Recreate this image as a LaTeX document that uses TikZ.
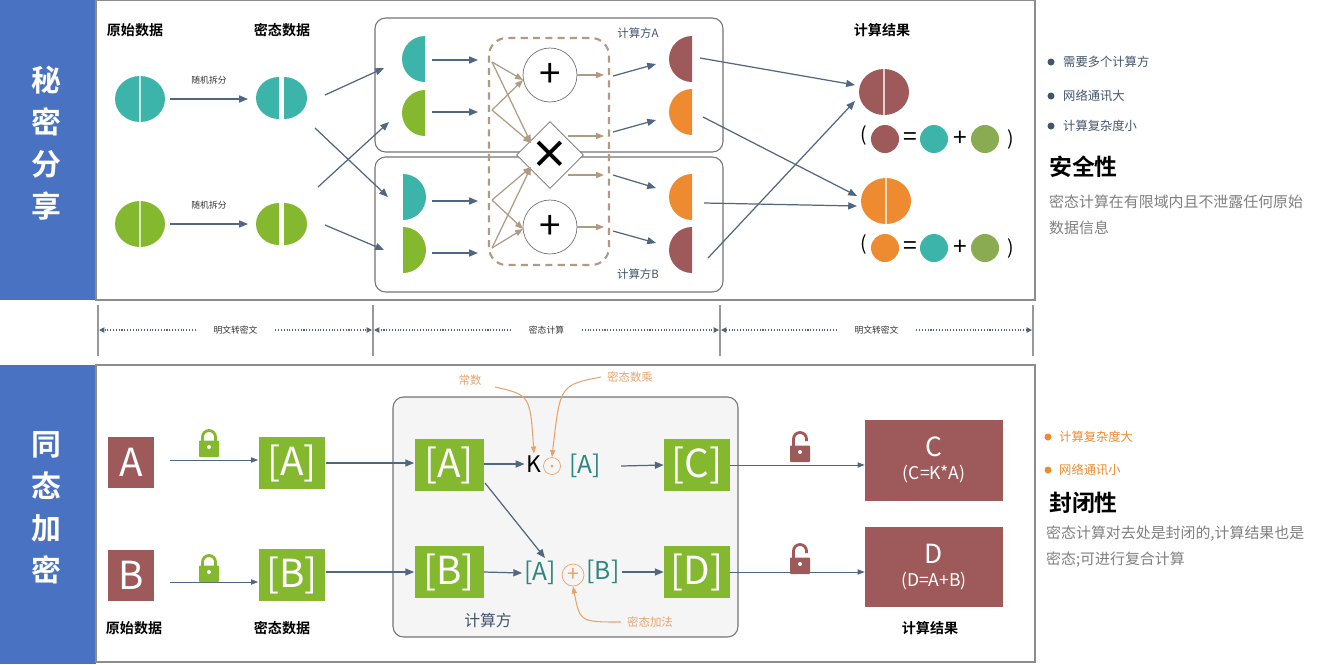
\documentclass[tikz,border=0pt]{standalone}
\usepackage{fontspec}
\setmainfont{Noto Sans CJK SC}[BoldFont={Noto Sans CJK SC Bold}]
\usetikzlibrary{shapes.geometric,arrows.meta,calc}

\definecolor{barblue}{HTML}{4A72C2}
\definecolor{cteal}{HTML}{3DB4A9}
\definecolor{cgreen}{HTML}{84B82E}
\definecolor{colive}{HTML}{8AAB52}
\definecolor{cmaroon}{HTML}{9E5A5A}
\definecolor{corange}{HTML}{EE8A2F}
\definecolor{cslate}{HTML}{516781}
\definecolor{ctan}{HTML}{B09A82}
\definecolor{cnote}{HTML}{E6A46C}
\definecolor{ctext}{HTML}{44546A}
\definecolor{cgray}{HTML}{7F7F7F}

% half disks: flat side right / left
\newcommand\halfl[2]{\fill[#2] ([yshift=0.46cm]#1) arc[start angle=90,end angle=270,radius=0.46cm] -- cycle;}
\newcommand\halfr[2]{\fill[#2] ([yshift=0.46cm]#1) arc[start angle=90,end angle=-90,radius=0.46cm] -- cycle;}
% whole circle cut in the middle
\newcommand\fullc[2]{\fill[#2] (#1) ellipse[x radius=0.5cm,y radius=0.46cm];
  \draw[white!70!#2,line width=0.6pt] ([yshift=0.46cm]#1) -- ([yshift=-0.46cm]#1);}
% split circle with a gap
\newcommand\splitc[2]{\fill[#2] ([xshift=-0.04cm,yshift=0.42cm]#1) arc[start angle=90,end angle=270,x radius=0.46cm,y radius=0.42cm] -- cycle;
  \fill[#2] ([xshift=0.06cm,yshift=0.42cm]#1) arc[start angle=90,end angle=-90,x radius=0.46cm,y radius=0.42cm] -- cycle;}
% closed / open padlock
\newcommand\lock[2]{\draw[#2,line width=1.6pt] ([xshift=-0.13cm,yshift=0.1cm]#1) -- ++(0,0.1cm) arc[start angle=180,end angle=0,radius=0.13cm] -- ++(0,-0.1cm);
  \fill[#2,rounded corners=0.5pt] ([xshift=-0.2cm,yshift=-0.2cm]#1) rectangle ([xshift=0.2cm,yshift=0.13cm]#1);
  \fill[white] (#1) circle[radius=0.04cm];}
\newcommand\unlock[2]{\draw[#2,line width=1.6pt] ([xshift=-0.13cm,yshift=0.1cm]#1) -- ++(0,0.16cm) arc[start angle=180,end angle=0,radius=0.13cm] -- ++(0,-0.04cm);
  \fill[#2,rounded corners=0.5pt] ([xshift=-0.2cm,yshift=-0.2cm]#1) rectangle ([xshift=0.2cm,yshift=0.13cm]#1);
  \fill[white] (#1) circle[radius=0.04cm];}

\tikzset{
  conn/.style={cslate,line width=0.7pt,-{Triangle[length=5pt,width=4pt]}},
  thin conn/.style={cslate,line width=0.5pt,-{Triangle[length=4pt,width=3pt]}},
  tan conn/.style={ctan,line width=0.7pt,-{Triangle[length=4.5pt,width=3.5pt]}},
  note conn/.style={cnote,line width=0.6pt,-{Triangle[length=4pt,width=3pt]}},
  head/.style={font=\bfseries\fontsize{8}{8}\selectfont},
  tiny label/.style={font=\fontsize{5}{5}\selectfont,text=black!80},
  side/.style={font=\bfseries\fontsize{17}{24}\selectfont,text=white,align=center},
  gbox/.style={fill=cgreen,minimum width=1.34cm,minimum height=1.04cm,text=white,inner sep=0pt,font=\fontsize{22}{22}\selectfont},
  mbox/.style={fill=cmaroon,minimum width=0.92cm,minimum height=1.02cm,text=white,inner sep=0pt,font=\fontsize{22}{22}\selectfont},
  op/.style={draw=black!55,circle,fill=white,minimum size=1.08cm,inner sep=0pt,font=\fontsize{22}{22}\selectfont},
  bullet/.style={font=\fontsize{7}{7}\selectfont,anchor=west},
  para/.style={font=\fontsize{8.5}{8.5}\selectfont,text=cgray,anchor=west},
  enc/.style={text=cteal!75!black,font=\fontsize{14}{14}\selectfont,inner sep=1pt},
}

\begin{document}
\begin{tikzpicture}[x=0.02cm,y=-0.02cm]
\useasboundingbox (0,0) rectangle (1328,664);
% panels
\fill[barblue] (0,0) rectangle (96,300);
\fill[barblue] (0,365) rectangle (96,664);
\draw[black!45,line width=0.8pt] (96,0.5) rectangle (1035,300);
\draw[black!45,line width=0.8pt] (96,365) rectangle (1035,662);
\node[side] (t1) at (46,143) {秘\\密\\分\\享};
\node[side] (t2) at (46,508) {同\\态\\加\\密};

% ---- secret sharing ----
\node[head] (h1) at (135,30) {原始数据};
\node[head] (h2) at (282,30) {密态数据};
\node[head] (h3) at (882,30) {计算结果};
\coordinate (o1) at (140,99); \coordinate (o2) at (140,224);
\coordinate (s1) at (281,98); \coordinate (s2) at (281,224);
\fullc{o1}{cteal} \fullc{o2}{cgreen}
\splitc{s1}{cteal} \splitc{s2}{cgreen}
\draw[conn] (170,99) -- (248,99) node[midway,above=5pt,tiny label] (r1) {随机拆分};
\draw[conn] (170,224) -- (248,224) node[midway,above=5pt,tiny label] (r2) {随机拆分};

% parties
\draw[black!55,rounded corners=6pt,line width=0.6pt] (375,18) rectangle (723,152);
\draw[black!55,rounded corners=6pt,line width=0.6pt] (375,157) rectangle (723,292);
\node[font=\fontsize{6.5}{6.5}\selectfont,text=ctext] (pa) at (638,33) {计算方A};
\node[font=\fontsize{6.5}{6.5}\selectfont,text=ctext] (pb) at (638,274) {计算方B};
\coordinate (a1) at (425,59); \coordinate (a2) at (425,113);
\coordinate (b1) at (403,197); \coordinate (b2) at (403,250);
\halfl{a1}{cteal} \halfl{a2}{cgreen} \halfr{b1}{cteal} \halfr{b2}{cgreen}
\draw[conn] (325,95) -- (384,68);
\draw[conn] (318,187) -- (389,122);
\draw[conn] (315,128) -- (388,197);
\draw[conn] (325,225) -- (384,250);
\foreach \y in {60,112,201,253} \draw[conn] (432,\y) -- (478,\y);

\draw[ctan,dashed,line width=1.2pt,dash pattern=on 4pt off 3pt,rounded corners=10pt] (489,38) rectangle (609,265);
\node[op] (p1) at (550,75) {+};
\node[draw=black!55,diamond,fill=white,minimum size=1.34cm,inner sep=0pt,font=\bfseries\fontsize{22}{22}\selectfont] (m1) at (550,155) {×};
\node[op] (p2) at (550,227) {+};
\foreach \s in {62,110}{
  \draw[tan conn] (492,\s) -- (523,80);
  \draw[tan conn] (492,\s) -- (531,143);}
\foreach \s in {200,248}{
  \draw[tan conn] (492,\s) -- (531,167);
  \draw[tan conn] (492,\s) -- (523,229);}
\draw[tan conn] (p1.east) -- (604,75);
\draw[tan conn] (568,136) -- (604,136);
\draw[tan conn] (568,175) -- (604,175);
\draw[tan conn] (p2.east) -- (604,227);
\draw[conn] (613,76) -- (656,64);
\draw[conn] (613,132) -- (656,120);
\draw[conn] (613,175) -- (656,188);
\draw[conn] (613,231) -- (656,243);
\coordinate (c1) at (692,59); \coordinate (c2) at (692,112);
\coordinate (c3) at (692,197); \coordinate (c4) at (692,250);
\halfl{c1}{cmaroon} \halfl{c2}{corange} \halfl{c3}{corange} \halfl{c4}{cmaroon}

% results
\coordinate (e1) at (884,92); \coordinate (e2) at (886,201);
\fullc{e1}{cmaroon} \fullc{e2}{corange}
\draw[conn] (700,58) -- (855,85);
\draw[conn] (703,117) -- (857,196);
\draw[conn] (704,203) -- (857,206);
\draw[conn] (708,258) -- (855,101);
\foreach \y/\cc in {139/cmaroon,248/corange}{
  \node[font=\fontsize{11}{11}\selectfont] at (864,\y-4) {(};
  \fill[\cc] (885,\y) circle[radius=0.28cm];
  \node[font=\fontsize{14}{14}\selectfont] at (910,\y) {=};
  \fill[cteal] (934,\y) circle[radius=0.28cm];
  \node[font=\fontsize{14}{14}\selectfont] at (960,\y) {+};
  \fill[colive] (985,\y) circle[radius=0.28cm];
  \node[font=\fontsize{11}{11}\selectfont] at (1011,\y) {)};}

% side notes
\foreach \y/\t in {62/需要多个计算方,96/网络通讯大,126/计算复杂度小}{
  \fill[ctext] (1051,\y) circle[radius=0.07cm];
  \node[bullet,text=ctext] at (1057,\y) {\t};}
\node[font=\bfseries\fontsize{13}{13}\selectfont,anchor=west] (sec) at (1043,167) {安全性};
\node[para] at (1043,202) {密态计算在有限域内且不泄露任何原始};
\node[para] at (1043,228) {数据信息};

% ---- phases ----
\foreach \x in {98,373,720,1033} \draw[black!40,line width=0.6pt] (\x,305) -- (\x,356);
\foreach \l/\r/\t in {98/373/明文转密文,373/720/密态计算,720/1033/明文转密文}{
  \node[tiny label,fill=white,inner xsep=10pt] (ph\l) at ({(\l+\r)/2},330) {\t};
  \draw[cslate,densely dotted,line width=0.6pt,-{Triangle[length=3pt,width=3pt]}] (ph\l.west) -- (\l+1,330);
  \draw[cslate,densely dotted,line width=0.6pt,-{Triangle[length=3pt,width=3pt]}] (ph\l.east) -- (\r-1,330);}

% ---- homomorphic ----
\fill[black!4,rounded corners=6pt] (393,397) rectangle (738,637);
\draw[black!55,rounded corners=6pt,line width=0.6pt] (393,397) rectangle (738,637);
\node[mbox] (A) at (131,462) {A};
\node[mbox] (B) at (131,575) {B};
\node[gbox] (eA) at (292,463) {[A]};
\node[gbox] (eB) at (292,575) {[B]};
\node[gbox,minimum width=1.38cm] (iA) at (449,465) {[A]};
\node[gbox,minimum width=1.38cm] (iB) at (449,572) {[B]};
\node[gbox,minimum width=1.32cm] (C2) at (697,465) {[C]};
\node[gbox,minimum width=1.32cm] (D2) at (697,572) {[D]};
\coordinate (la) at (170,460); \coordinate (lb) at (170,582);
\draw[thin conn] (la) -- (eA.west |- la);
\draw[thin conn] (lb) -- (eB.west |- lb);
\coordinate (k1) at (209,447); \coordinate (k2) at (209,572);
\coordinate (k3) at (800,452); \coordinate (k4) at (800,564);
\lock{k1}{cgreen}
\lock{k2}{cgreen}
\draw[conn] (eA.east) -- (iA.west |- eA.east);
\draw[conn] (eB.east |- iB.west) -- (iB.west);

\node[font=\fontsize{13}{13}\selectfont,inner sep=1pt] (K) at (534,464) {K};
\node[draw=cnote,circle,minimum size=0.34cm,inner sep=0pt] (dot) at (552,466) {};
\fill[cnote] (dot) circle[radius=0.03cm];
\node[enc] (kA) at (585,466) {[A]};
\node[enc] (sA) at (540,573) {[A]};
\node[draw=cnote,circle,minimum size=0.44cm,inner sep=0pt,text=cnote,font=\fontsize{12}{12}\selectfont] (plus) at (573,575) {+};
\node[enc] (sB) at (603,572) {[B]};
\draw[conn] (iA.east |- K.west) -- (K.west);
\draw[conn] (iB.east) -- (sA.west);
\draw[conn] (485,483) -- (545,558);
\draw[conn] (621,466) -- (C2.west);
\draw[conn] (sB.east) -- (D2.west);
\node[font=\fontsize{9}{9}\selectfont,text=ctext] (party) at (488,620) {计算方};

\node[font=\fontsize{6.5}{6.5}\selectfont,text=cnote] (n1) at (470,380) {常数};
\node[font=\fontsize{6.5}{6.5}\selectfont,text=cnote] (n2) at (630,377) {密态数乘};
\node[font=\fontsize{6.5}{6.5}\selectfont,text=cnote] (n3) at (650,622) {密态加法};
\draw[note conn] (495,387) .. controls (530,395) .. (K.north);
\draw[note conn] (n2.west) .. controls (560,385) .. (dot.north);
\draw[note conn] (n3.west) .. controls (580,622) .. (plus.south);

\node[fill=cmaroon,minimum width=2.76cm,minimum height=1.62cm,text=white,align=center,inner sep=0pt,font=\fontsize{10}{13}\selectfont] (Cr) at (934,460) {{\fontsize{15}{15}\selectfont C}\\(C=K*A)};
\node[fill=cmaroon,minimum width=2.76cm,minimum height=1.6cm,text=white,align=center,inner sep=0pt,font=\fontsize{10}{13}\selectfont] (Dr) at (934,567) {{\fontsize{15}{15}\selectfont D}\\(D=A+B)};
\draw[thin conn] (C2.east) -- (Cr.west |- C2.east);
\draw[thin conn] (D2.east) -- (Dr.west |- D2.east);
\unlock{k3}{cmaroon}
\unlock{k4}{cmaroon}

\node[head] (h4) at (134,628) {原始数据};
\node[head] (h5) at (282,628) {密态数据};
\node[head] (h6) at (930,628) {计算结果};

\foreach \y/\t in {437/计算复杂度大,470/网络通讯小}{
  \fill[corange] (1048,\y) circle[radius=0.07cm];
  \node[bullet,text=corange] at (1053,\y) {\t};}
\node[font=\bfseries\fontsize{13}{13}\selectfont,anchor=west] (clo) at (1043,503) {封闭性};
\node[para] at (1040,534) {密态计算对去处是封闭的,计算结果也是};
\node[para] at (1040,560) {密态;可进行复合计算};
\end{tikzpicture}
\end{document}
